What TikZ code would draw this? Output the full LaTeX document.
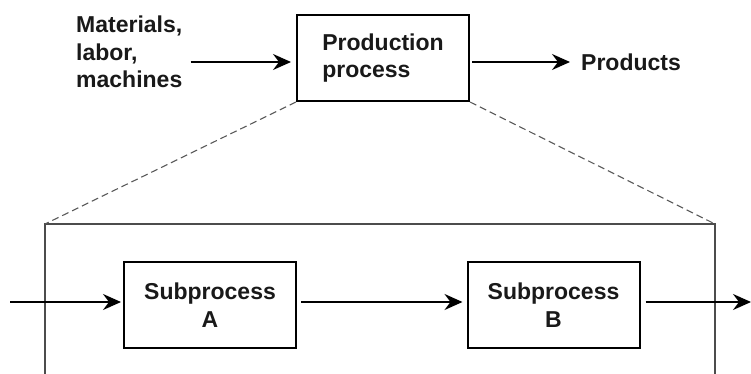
\documentclass[tikz,border=0pt]{standalone}
\usepackage{fontspec}
\setmainfont{Liberation Sans}
\usetikzlibrary{arrows.meta}
\begin{document}
\begin{tikzpicture}[x=1pt,y=-1pt,
  txt/.style={font=\fontsize{23}{27.5}\selectfont\bfseries, text=black!90},
  procbox/.style={draw, line width=2pt, minimum width=172pt, minimum height=86pt, inner sep=0pt, txt},
  arr/.style={line width=2pt, -{Stealth[length=18pt,width=16pt,inset=6pt]}},
  zoomline/.style={draw=black!65, line width=1.1pt, dash pattern=on 7pt off 4pt},
  frameline/.style={draw=black!70, line width=1.3pt}]
\useasboundingbox (0,0) rectangle (751,374);
% frame of the detail view
\coordinate (fl) at (45,224);
\coordinate (fr) at (715,224);
\coordinate (fbl) at (45,374);
\coordinate (fbr) at (715,374);
\draw[frameline] (fbl) -- (fl) -- (fr) -- (fbr);
% top level
\node[procbox, align=left] (prod) at (383,58) {Production\\process};
\node[txt, align=left, anchor=north west, inner sep=0pt] (inp) at (76,16) {Materials,\\labor,\\machines};
\node[txt, anchor=west, inner sep=0pt] (out) at (581,62) {Products};
\coordinate (pin) at ([yshift=-4pt]prod.west);
\coordinate (pout) at ([yshift=-4pt]prod.east);
\draw[arr, shorten <=8pt, shorten >=5pt] (inp.east |- pin) -- (pin);
\draw[arr, shorten <=2pt, shorten >=11pt] (pout) -- (out.west |- pout);
% zoom lines
\draw[zoomline] (prod.south west) -- (fl);
\draw[zoomline] (prod.south east) -- (fr);
% sub processes
\node[procbox, align=center] (subA) at (210,305) {Subprocess\\A};
\node[procbox, align=center] (subB) at (553.5,305) {Subprocess\\B};
\coordinate (inS) at (10,302);
\coordinate (outS) at (751,302);
\draw[arr, shorten >=2pt] (inS) -- (inS -| subA.west);
\draw[arr, shorten <=4pt, shorten >=4pt] (subA.east |- inS) -- (subB.west |- inS);
\draw[arr, shorten <=5pt] (subB.east |- inS) -- (outS);
\end{tikzpicture}
\end{document}
